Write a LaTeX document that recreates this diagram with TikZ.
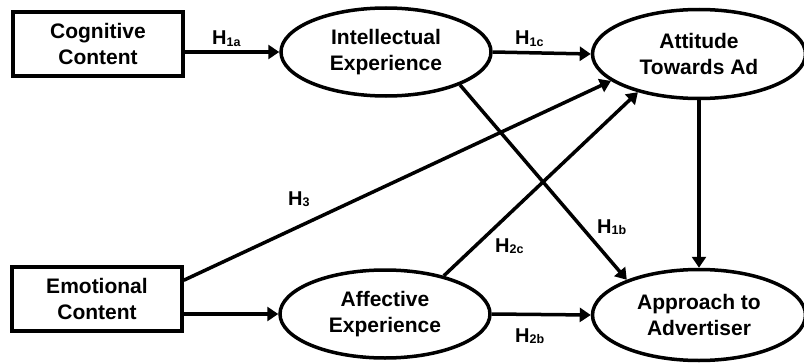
\documentclass[tikz,border=0pt]{standalone}
\usepackage{fontspec}
\setmainfont{Liberation Sans}
\usetikzlibrary{shapes,arrows.meta}

\tikzset{
  box/.style={draw, line width=3.5pt, minimum width=170pt, minimum height=64pt, inner sep=0pt, align=center, font=\bfseries\fontsize{21}{26}\selectfont},
  oval/.style={draw, ellipse, line width=3.5pt, minimum width=210pt, minimum height=88pt, inner sep=0pt, align=center, font=\bfseries\fontsize{21}{26}\selectfont},
  hlabel/.style={anchor=base west, inner sep=0pt, font=\bfseries\fontsize{20}{20}\selectfont},
  link/.style={line width=3.5pt, -{Triangle[length=11pt,width=14pt]}}
}
\newcommand{\hyp}[1]{H\raisebox{-1.5pt}{\fontsize{12.5}{12.5}\selectfont #1}}

\begin{document}
\begin{tikzpicture}[x=1pt,y=-1pt]
\useasboundingbox (0,0) rectangle (804,364);
%-------->nodes<--------------
\node[box] (cog) at (98,44) {Cognitive\\Content};
\node[box] (emo) at (97,299) {Emotional\\Content};
\node[oval] (intel) at (386,52) {Intellectual\\Experience};
\node[oval] (aff) at (385,314) {Affective\\Experience};
\node[oval, minimum width=213pt, minimum height=89pt] (att) at (699,54) {Attitude\\Towards Ad};
\node[oval, minimum width=213pt, minimum height=91pt] (app) at (699,315) {Approach to\\Advertiser};
%------------->arrows<------------------
\draw[link] (cog.east |- intel.west) -- (intel.west);
\draw[link] (intel.east) -- (att.west);
\draw[link] (intel.-24) -- (app.154);
\draw[link] ([yshift=-15pt]emo.north east) -- (att.197);
\draw[link] (aff.33) -- (att.212);
\draw[link] (emo.east |- aff.west) -- (aff.west);
\draw[link] (aff.east) -- (app.west);
\draw[link] (att.south) -- (app.north);
%-----------> labels <---------------
\node[hlabel] (h1a) at (212,45) {\hyp{1a}};
\node[hlabel] (h1c) at (515,45) {\hyp{1c}};
\node[hlabel] (h3) at (288,205) {\hyp{3}};
\node[hlabel] (h2c) at (495,252) {\hyp{2c}};
\node[hlabel] (h1b) at (597,233) {\hyp{1b}};
\node[hlabel] (h2b) at (515,342) {\hyp{2b}};
\end{tikzpicture}
\end{document}
